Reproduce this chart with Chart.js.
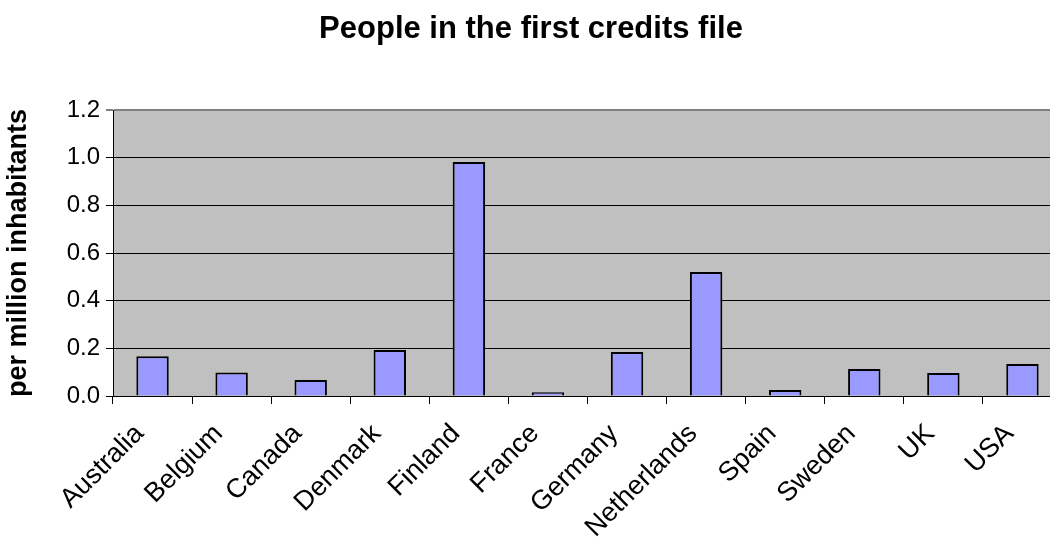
<!DOCTYPE html>
<html>
<head>
<meta charset="utf-8">
<script src="https://cdn.jsdelivr.net/npm/chart.js@4"></script>
<style>
  html, body { margin: 0; padding: 0; background: #fff; overflow: hidden; width: 1050px; height: 537px; }
  #wrap { position: absolute; left: 0; top: 0; width: 1062px; height: 537px; }
</style>
</head>
<body>
<div id="wrap"><canvas id="myChart"></canvas></div>
<script>
// chart data
const countries = ["Australia", "Belgium", "Canada", "Denmark", "Finland", "France",
                   "Germany", "Netherlands", "Spain", "Sweden", "UK", "USA"];
const perMillion = [0.167, 0.099, 0.067, 0.193, 0.982, 0.016,
                    0.185, 0.520, 0.025, 0.113, 0.097, 0.134];
const yTicks = [0, 0.2, 0.4, 0.6, 0.8, 1.0, 1.2];

const FONT = "'Liberation Sans', Arial, sans-serif";

// gray plot background, like the old spreadsheet charts
const plotBg = {
  id: 'plotBg',
  beforeDraw(chart) {
    const { ctx, chartArea: a } = chart;
    ctx.save();
    ctx.fillStyle = '#c0c0c0';
    ctx.fillRect(a.left, a.top, a.right - a.left, a.bottom - a.top);
    ctx.restore();
  }
};

const ctx = document.getElementById('myChart').getContext('2d');

new Chart(ctx, {
  type: 'bar',
  data: {
    labels: countries,
    datasets: [{
      label: 'per million inhabitants',
      data: perMillion,
      backgroundColor: '#9999ff',
      borderColor: '#000000',
      borderWidth: 2,
      barPercentage: 0.41,
      categoryPercentage: 1
    }]
  },
  options: {
    responsive: true,
    maintainAspectRatio: false,
    animation: false,
    layout: { padding: 0 },
    plugins: {
      legend: { display: false },
      tooltip: { enabled: false },
      title: {
        display: true,
        text: 'People in the first credits file',
        color: '#000',
        font: { family: FONT, size: 31, weight: 'bold' },
        padding: { top: 11, bottom: 61.8 }
      }
    },
    scales: {
      x: {
        offset: true,
        grid: { drawOnChartArea: false, drawTicks: true, tickLength: 8, color: '#000', offset: true },
        border: { color: '#000', width: 1 },
        ticks: {
          color: '#000',
          font: { family: FONT, size: 27 },
          minRotation: 45,
          maxRotation: 45,
          padding: 14,
          labelOffset: -13,
          autoSkip: false
        },
        afterFit(scale) { scale.height = 141; }
      },
      y: {
        min: 0,
        max: 1.2,
        afterBuildTicks(scale) { scale.ticks = yTicks.map(v => ({ value: v })); },
        grid: {
          color: c => (c.tick && c.tick.value === 1.2 ? '#808080' : '#000'),
          lineWidth: c => (c.tick && c.tick.value === 1.2 ? 2 : 1),
          tickLength: 7
        },
        border: { color: '#000', width: 1 },
        ticks: {
          color: '#000',
          font: { family: FONT, size: 24 },
          padding: 6,
          callback: v => v.toFixed(1)
        },
        title: {
          display: true,
          text: 'per million inhabitants',
          color: '#000',
          font: { family: FONT, size: 27, weight: 'bold' },
          padding: { top: 2, bottom: 0 }
        },
        afterFit(scale) { scale.width = 113; }
      }
    }
  },
  plugins: [plotBg]
});
</script>
</body>
</html>
